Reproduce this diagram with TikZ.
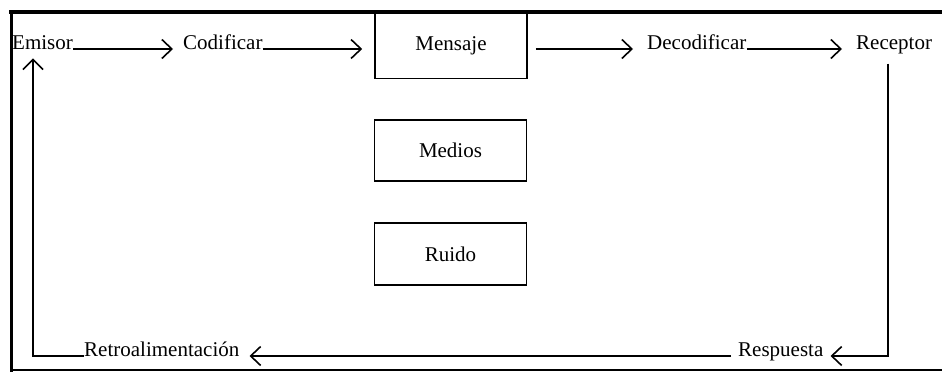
\documentclass[tikz,border=0pt]{standalone}
\usepackage{fontspec}
\setmainfont{Liberation Serif}
\usetikzlibrary{arrows.meta}
\tikzset{
  lbl/.style={font=\fontsize{21}{25}\selectfont, inner sep=0pt, anchor=base west},
  box/.style={draw, line width=1.6pt, minimum width=152pt, inner sep=0pt, font=\fontsize{21}{25}\selectfont},
  conn/.style={line width=1.6pt, -{Straight Barb[length=10pt,width=19pt,line width=1.6pt]}},
  upconn/.style={line width=1.6pt, -{Straight Barb[length=10pt,width=20pt,line width=1.6pt]}},
  frame/.style={line cap=rect}
}
\begin{document}
\begin{tikzpicture}[x=1pt,y=-1pt]
\useasboundingbox (0,0) rectangle (942,372);
% frame
\draw[frame, line width=4pt] (11,12) -- (942,12);
\draw[frame, line width=3pt] (11,12) -- (11,370);
\draw[frame, line width=2.5pt] (11,370) -- (942,370);
% labels
\node[lbl] (emisor) at (12,49) {Emisor};
\node[lbl] (codificar) at (183,49) {Codificar};
\node[lbl] (decod) at (647,49) {Decodificar};
\node[lbl] (receptor) at (856,49) {Receptor};
\node[lbl] (respuesta) at (738,356) {Respuesta};
\node[lbl] (retro) at (84,356) {Retroalimentación};
% boxes
\node[box, minimum height=65pt] (mensaje) at (451,46) {Mensaje};
\node[box, minimum height=61pt] (medios) at (450.5,150.5) {Medios};
\node[box, minimum height=62pt] (ruido) at (450.5,254) {Ruido};
% connectors
\draw[conn, shorten >=10pt] (emisor.base east) -- (codificar.base west);
\draw[conn, shorten >=12pt] (codificar.base east) -- (codificar.base east -| mensaje.west);
\draw[conn, shorten <=8pt, shorten >=14pt] (mensaje.east |- decod.base west) -- (decod.base west);
\draw[conn, shorten >=14pt] (decod.base east) -- (receptor.base west);
\draw[conn, shorten >=7pt] ([xshift=-6pt,yshift=-10pt]receptor.south) |- (respuesta.base east);
\draw[conn, shorten <=7pt, shorten >=10pt] (respuesta.base west) -- (retro.base east);
\draw[upconn, shorten >=9pt] (retro.base west) -| ([xshift=21pt]emisor.south west);
\end{tikzpicture}
\end{document}
